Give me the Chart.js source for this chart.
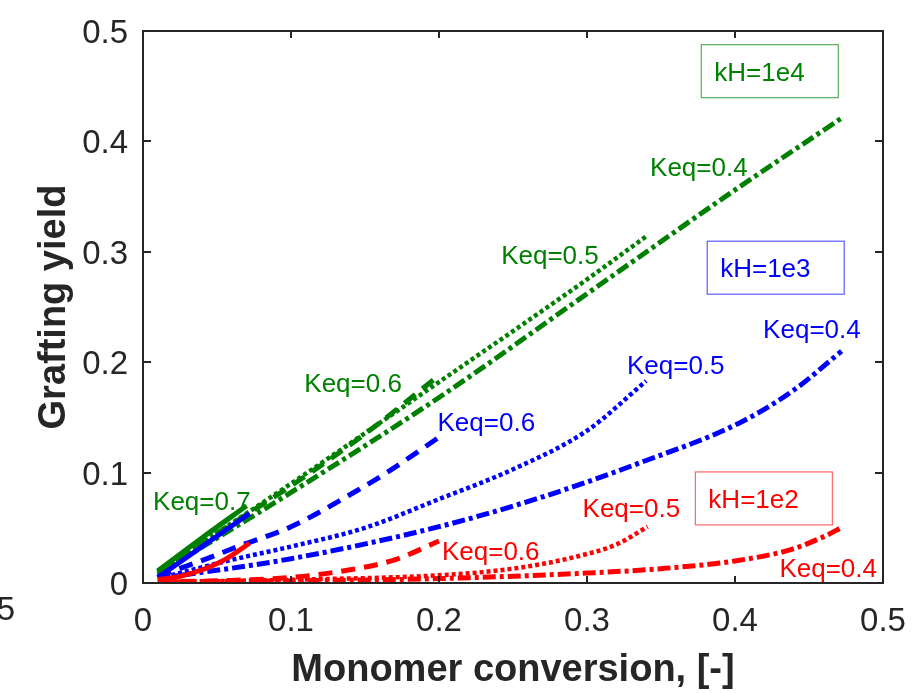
<!DOCTYPE html>
<html lang="en">
<head>
    <meta charset="UTF-8">
    <title>Grafting yield vs monomer conversion</title>
    <script src="https://cdn.jsdelivr.net/npm/chart.js@4"></script>
    <style>
        html, body { margin: 0; padding: 0; background: #fff; }
        #wrap { width: 916px; height: 693px; position: relative; }
    </style>
</head>
<body>
    <div id="wrap">
        <canvas id="yieldChart"></canvas>
    </div>

    <script>
        // kH = 1e4 (green)
        const convG07 = [0.01, 0.04, 0.07];
        const yieldG07 = [0.011, 0.041, 0.070];
        const convG06 = [0.01, 0.05, 0.1, 0.15, 0.2];
        const yieldG06 = [0.010, 0.045, 0.088, 0.135, 0.188];
        const convG05 = [0.01, 0.1, 0.2, 0.3, 0.34];
        const yieldG05 = [0.010, 0.090, 0.182, 0.275, 0.314];
        const convG04 = [0.01, 0.1, 0.2, 0.3, 0.4, 0.473];
        const yieldG04 = [0.008, 0.082, 0.168, 0.262, 0.356, 0.422];

        // kH = 1e3 (blue)
        const convB07 = [0.01, 0.04, 0.072];
        const yieldB07 = [0.005, 0.033, 0.063];
        const convB06 = [0.01, 0.045, 0.064, 0.1, 0.145, 0.167, 0.2];
        const yieldB06 = [0.006, 0.023, 0.033, 0.051, 0.084, 0.102, 0.132];
        const convB05 = [0.01, 0.06, 0.1, 0.15, 0.2, 0.25, 0.3, 0.34];
        const yieldB05 = [0.004, 0.021, 0.033, 0.050, 0.076, 0.103, 0.138, 0.183];
        const convB04 = [0.01, 0.1, 0.2, 0.27, 0.336, 0.403, 0.44, 0.472];
        const yieldB04 = [0.004, 0.022, 0.051, 0.078, 0.109, 0.145, 0.175, 0.210];

        // kH = 1e2 (red)
        const convR07 = [0.01, 0.025, 0.04, 0.055, 0.072];
        const yieldR07 = [0.003, 0.006, 0.012, 0.021, 0.036];
        const convR06 = [0.01, 0.05, 0.1, 0.14, 0.17, 0.2];
        const yieldR06 = [0.001, 0.002, 0.005, 0.012, 0.021, 0.038];
        const convR05 = [0.01, 0.1, 0.2, 0.25, 0.29, 0.32, 0.341];
        const yieldR05 = [0.001, 0.003, 0.007, 0.013, 0.023, 0.035, 0.051];
        const convR04 = [0.01, 0.1, 0.2, 0.3, 0.35, 0.4, 0.437, 0.46, 0.473];
        const yieldR04 = [0.001, 0.002, 0.004, 0.009, 0.013, 0.020, 0.030, 0.042, 0.051];

        // axis ticks
        const tickValues = [0, 0.1, 0.2, 0.3, 0.4, 0.5];

        // curve labels: [text, conversion, yield, colour]
        const curveLabels = [
            ['Keq=0.7', 0.0068, 0.066, 'green'],
            ['Keq=0.6', 0.109, 0.173, 'green'],
            ['Keq=0.5', 0.242, 0.289, 'green'],
            ['Keq=0.4', 0.3426, 0.369, 'green'],
            ['Keq=0.6', 0.199, 0.138, 'blue'],
            ['Keq=0.5', 0.327, 0.189, 'blue'],
            ['Keq=0.4', 0.419, 0.222, 'blue'],
            ['Keq=0.6', 0.202, 0.021, 'red'],
            ['Keq=0.5', 0.297, 0.060, 'red'],
            ['Keq=0.4', 0.430, 0.005, 'red']
        ];
        // boxed group labels
        const groupLabels = [
            ['kH=1e4', 0.386, 0.455, 'green'],
            ['kH=1e3', 0.390, 0.277, 'blue'],
            ['kH=1e2', 0.382, 0.068, 'red']
        ];

        const colors = { green: 'rgb(0,128,0)', blue: 'rgb(0,0,255)', red: 'rgb(255,0,0)' };
        const boxColors = { green: 'rgba(0,128,0,0.65)', blue: 'rgba(0,0,255,0.65)', red: 'rgba(255,0,0,0.6)' };
        const axisColor = '#262626';
        const fontFamily = "'Liberation Sans', Arial, Helvetica, sans-serif";

        const dashes = {
            solid: [],
            dashed: [14, 9],
            dotted: [4, 3],
            dashdot: [13, 4, 4, 4]
        };

        function series(xs, ys, color, style) {
            return {
                data: xs.map((x, i) => ({ x: x, y: ys[i] })),
                borderColor: colors[color],
                borderWidth: style === 'dotted' ? 4.5 : 5,
                borderDash: dashes[style],
                borderCapStyle: 'butt',
                pointRadius: 0,
                fill: false,
                cubicInterpolationMode: 'monotone'
            };
        }

        // first entry ends up on top
        const datasets = [
            series(convR04, yieldR04, 'red', 'dashdot'),
            series(convR05, yieldR05, 'red', 'dotted'),
            series(convR06, yieldR06, 'red', 'dashed'),
            series(convR07, yieldR07, 'red', 'solid'),
            series(convB07, yieldB07, 'blue', 'solid'),
            series(convG07, yieldG07, 'green', 'solid'),
            series(convB04, yieldB04, 'blue', 'dashdot'),
            series(convB05, yieldB05, 'blue', 'dotted'),
            series(convB06, yieldB06, 'blue', 'dashed'),
            series(convG04, yieldG04, 'green', 'dashdot'),
            series(convG05, yieldG05, 'green', 'dotted'),
            series(convG06, yieldG06, 'green', 'dashed')
        ];

        // box, inward ticks, text labels
        const decorations = {
            id: 'decorations',
            afterDatasetsDraw(chart) {
                const ctx = chart.ctx;
                const xs = chart.scales.x, ys = chart.scales.y;
                const a = chart.chartArea;
                ctx.save();

                ctx.strokeStyle = axisColor;
                ctx.lineWidth = 2;
                ctx.strokeRect(a.left, a.top, a.right - a.left, a.bottom - a.top);
                ctx.beginPath();
                tickValues.slice(1, -1).forEach(v => {
                    const px = Math.round(xs.getPixelForValue(v));
                    ctx.moveTo(px, a.bottom); ctx.lineTo(px, a.bottom - 7);
                    ctx.moveTo(px, a.top); ctx.lineTo(px, a.top + 7);
                    const py = Math.round(ys.getPixelForValue(v));
                    ctx.moveTo(a.left, py); ctx.lineTo(a.left + 8, py);
                    ctx.moveTo(a.right, py); ctx.lineTo(a.right - 8, py);
                });
                ctx.stroke();

                ctx.font = '26px ' + fontFamily;
                ctx.textAlign = 'left';
                ctx.textBaseline = 'alphabetic';
                curveLabels.forEach(([text, x, y, c]) => {
                    ctx.fillStyle = colors[c];
                    ctx.fillText(text, xs.getPixelForValue(x), ys.getPixelForValue(y));
                });

                groupLabels.forEach(([text, x, y, c]) => {
                    const px = xs.getPixelForValue(x), py = ys.getPixelForValue(y);
                    ctx.fillStyle = colors[c];
                    ctx.fillText(text, px, py);
                    ctx.strokeStyle = boxColors[c];
                    ctx.lineWidth = 1.2;
                    ctx.strokeRect(px - 13, py - 36, 137, 53);
                });

                // cut-off tick label of the neighbouring panel
                ctx.fillStyle = axisColor;
                ctx.font = '33px ' + fontFamily;
                ctx.textAlign = 'right';
                ctx.textBaseline = 'middle';
                ctx.fillText('5', 15, 611);
                ctx.restore();
            }
        };

        const ctx = document.getElementById('yieldChart').getContext('2d');

        new Chart(ctx, {
            type: 'line',
            data: { datasets: datasets },
            options: {
                responsive: true,
                maintainAspectRatio: false,
                animation: false,
                layout: { padding: { left: 0, top: 31, right: 33, bottom: 0 } },
                plugins: {
                    legend: { display: false },
                    tooltip: { enabled: false }
                },
                scales: {
                    x: {
                        type: 'linear',
                        min: 0,
                        max: 0.5,
                        afterFit: scale => {
                            scale.height = 110;
                            scale.paddingLeft = 0;
                            scale.paddingRight = 0;
                        },
                        afterBuildTicks: scale => { scale.ticks = tickValues.map(v => ({ value: v })); },
                        grid: { display: false, drawTicks: false },
                        border: { display: false },
                        ticks: {
                            color: axisColor,
                            padding: 19,
                            maxRotation: 0,
                            font: { size: 33, family: fontFamily }
                        },
                        title: {
                            display: true,
                            text: 'Monomer conversion, [-]',
                            color: axisColor,
                            padding: { top: 0, bottom: 0 },
                            font: { size: 38, weight: 'bold', family: fontFamily }
                        }
                    },
                    y: {
                        type: 'linear',
                        min: 0,
                        max: 0.5,
                        afterFit: scale => {
                            scale.width = 143;
                            scale.paddingTop = 0;
                            scale.paddingBottom = 0;
                        },
                        afterBuildTicks: scale => { scale.ticks = tickValues.map(v => ({ value: v })); },
                        grid: { display: false, drawTicks: false },
                        border: { display: false },
                        ticks: {
                            color: axisColor,
                            padding: 15,
                            labelOffset: 3,
                            font: { size: 33, family: fontFamily }
                        },
                        title: {
                            display: true,
                            text: 'Grafting yield',
                            color: axisColor,
                            padding: { top: 32, bottom: 0 },
                            font: { size: 38, weight: 'bold', family: fontFamily }
                        }
                    }
                }
            },
            plugins: [decorations]
        });
    </script>
</body>
</html>
